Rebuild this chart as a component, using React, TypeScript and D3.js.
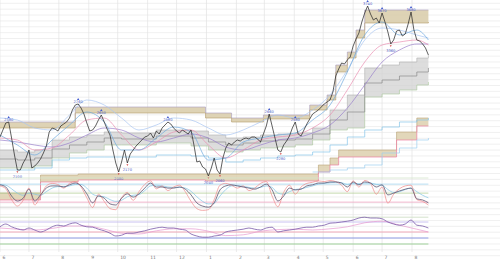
import React from "react";
import * as d3 from "d3";

const W = 500;
const H = 263;
const START = new Date(2023, 5, 1);
const AXIS_END = new Date(2024, 7, 1);
const STEP_DAYS = 3;

const monthLabels = ["6", "7", "8", "9", "10", "11", "12", "1", "2", "3", "4", "5", "6", "7", "8"];

// price sampled every 3 days
const price = [
  143, 150, 157, 158, 142, 125, 110, 110, 117, 122,
  130, 112, 114, 117, 121, 127, 134, 148, 152, 151,
  149, 154, 156, 158, 162, 170, 175, 176, 172, 166,
  157, 149, 150, 154, 160, 165, 158, 151, 145, 130,
  117, 108, 118, 130, 117, 126, 130, 134, 137, 140,
  143, 144, 147, 142, 149, 146, 152, 155, 158, 156,
  152, 149, 147, 150, 148, 146, 150, 135, 118, 119,
  113, 111, 104, 112, 122, 110, 106, 122, 132, 137,
  135, 138, 140, 139, 141, 142, 141, 143, 143, 141,
  138, 146, 154, 166, 154, 142, 130, 128, 135, 139,
  144, 152, 158, 146, 144, 150, 156, 161, 166, 168,
  170, 173, 176, 178, 180, 188, 204, 211, 217, 216,
  220, 223, 234, 241, 247, 258, 267, 274, 266, 260,
  262, 257, 267, 258, 248, 236, 240, 249, 250, 244,
  246, 256, 268, 250, 240, 239, 236, 232, 225,
];

// coarse series (every 6 steps + last)
const coarseIdx = [...d3.range(0, 145, 6), 148];
const maFast = [145, 135, 125, 140, 155, 168, 158, 130, 130, 142, 153, 148, 120, 122, 138, 142, 145, 147, 160, 175, 208, 245, 258, 245, 250, 240];
const maMid = [142, 140, 130, 132, 145, 160, 162, 145, 130, 138, 148, 150, 135, 122, 130, 140, 143, 145, 152, 165, 190, 218, 235, 238, 240, 235];
const maSlow = [140, 138, 135, 133, 137, 145, 152, 150, 142, 138, 142, 146, 142, 133, 130, 135, 140, 142, 147, 155, 172, 195, 218, 230, 236, 236];
const envUpper = [162, 160, 152, 150, 165, 180, 175, 162, 150, 155, 162, 160, 152, 145, 150, 158, 165, 162, 170, 185, 210, 240, 252, 250, 245, 242];
const envLower = [110, 110, 112, 120, 122, 123, 123, 123, 123, 125, 125, 124, 122, 118, 120, 122, 124, 125, 128, 135, 143, 150, 153, 158, 160, 162];
const cloudTop = [130, 128, 130, 140, 143, 145, 148, 147, 147, 150, 150, 149, 145, 142, 143, 145, 146, 147, 152, 170, 185, 212, 215, 218, 222, 225];
const cloudBot = [112, 112, 114, 122, 127, 130, 135, 135, 135, 137, 137, 134, 130, 128, 130, 132, 133, 135, 140, 150, 152, 183, 186, 190, 195, 198];
const cloudMid = [121, 120, 122, 131, 135, 138, 142, 141, 141, 144, 144, 142, 138, 135, 137, 139, 140, 141, 146, 160, 168, 197, 200, 204, 208, 212];

const env2Idx = [108, 114, 120, 126, 132, 138, 144, 148];
const env2 = [108, 110, 112, 115, 127, 132, 140, 142];

// resistance / support channels (step)
const resIdx = [0, 26, 71, 80, 91, 107, 113, 116, 120, 123, 126, 148];
const resTop = [158, 173, 167, 162, 165, 175, 185, 215, 228, 250, 270, 270];
const resBot = [152, 167, 162, 158, 161, 170, 180, 208, 222, 242, 257, 258];
const supIdx = [0, 14, 27, 71, 110, 114, 117, 137, 144, 148];
const supTop = [87, 105, 106, 106, 115, 122, 130, 148, 162, 162];
const supBot = [80, 98, 100, 99, 108, 115, 123, 140, 154, 154];

// oscillator (every 2 steps)
const oscD = [
  81, 75, 50, 36, 44, 69, 36, 53, 72, 78,
  78, 75, 81, 86, 78, 56, 31, 50, 44, 28,
  25, 44, 56, 47, 56, 72, 86, 75, 75, 72,
  72, 75, 69, 53, 31, 22, 19, 31, 67, 78,
  81, 78, 75, 72, 69, 75, 83, 67, 36, 50,
  72, 67, 69, 78, 81, 86, 86, 89, 89, 86,
  75, 89, 81, 89, 86, 75, 81, 53, 58, 64,
  69, 72, 42, 39, 31,
];
const oscK = [
  78, 70, 40, 22, 38, 72, 25, 50, 78, 85,
  82, 72, 85, 90, 75, 45, 18, 55, 35, 15,
  12, 45, 60, 38, 62, 82, 92, 70, 78, 65,
  75, 80, 62, 35, 15, 10, 12, 40, 80, 85,
  80, 72, 78, 65, 72, 85, 90, 50, 20, 60,
  80, 55, 75, 85, 88, 92, 90, 93, 90, 80,
  62, 92, 75, 93, 85, 55, 75, 30, 55, 70,
  78, 80, 40, 35, 25,
];
const oscSlow = [
  82, 80, 70, 58, 52, 58, 55, 52, 62, 72,
  76, 76, 78, 82, 82, 72, 55, 50, 48, 40,
  35, 38, 48, 52, 54, 65, 78, 80, 78, 75,
  74, 74, 72, 63, 48, 35, 28, 30, 50, 68,
  78, 79, 77, 74, 72, 74, 78, 74, 58, 55,
  62, 68, 70, 74, 78, 83, 85, 87, 88, 87,
  82, 85, 84, 86, 86, 82, 80, 68, 60, 62,
  68, 72, 62, 52, 45,
];
const rsiMain = [
  68, 75, 68, 63, 60, 65, 60, 55, 60, 68,
  72, 70, 75, 78, 72, 68, 67, 62, 58, 52,
  45, 47, 52, 52, 55, 58, 62, 65, 67, 65,
  65, 62, 60, 50, 45, 42, 42, 45, 47, 55,
  58, 60, 62, 65, 62, 60, 65, 67, 55, 58,
  60, 62, 65, 67, 67, 70, 72, 77, 78, 80,
  82, 85, 90, 92, 90, 90, 88, 80, 75, 72,
  75, 85, 72, 70, 65,
];
const rsiSignal = [65, 62, 60, 64, 70, 70, 62, 52, 50, 58, 63, 63, 57, 46, 48, 57, 61, 62, 60, 63, 68, 78, 82, 72, 62, 55];

const oscRefs = [100, 83, 58, 33, 19];
const oscRefColors = ["#d4e4cc", "#a6d6ef", "#b5cf98", "#f3a9c6", "#c9c9c9"];
const rsiRefs = [92, 80, 55, 40, 25];
const rsiRefColors = ["#cfe0c6", "#c4bbee", "#f2a3b3", "#8392e2", "#94cc8f"];

const peakIdx = [3, 27, 35, 58, 93, 102, 127, 132, 142];
const troughIdx = [6, 41, 44, 72, 76, 97, 135];

export default function App() {
  const x = d3.scaleTime().domain([START, AXIS_END]).range([0, 412]);
  const dateAt = (i: number) => d3.timeDay.offset(START, i * STEP_DAYS);
  const xi = (i: number) => x(dateAt(i));
  const yMain = d3.scaleLinear().domain([100, 280]).range([180, 0]);
  const yOsc = d3.scaleLinear().domain([0, 100]).range([214, 178]);
  const yRsi = d3.scaleLinear().domain([0, 100]).range([254, 214]);
  const xEnd = xi(price.length - 1);

  const gridY = d3.range(44).map((k) => 3.3 + k * 5.87);
  const months = d3.timeMonth.range(START, d3.timeDay.offset(AXIS_END, 1));

  const stepArea = (idx: number[], top: number[], bot: number[]) =>
    d3
      .area<number>()
      .x((d) => xi(d))
      .y0((_, j) => yMain(bot[j]))
      .y1((_, j) => yMain(top[j]))
      .curve(d3.curveStepAfter)(idx) || "";
  const stepLine = (idx: number[], vals: number[]) =>
    d3
      .line<number>()
      .x((_, j) => xi(idx[j]))
      .y((d) => yMain(d))
      .curve(d3.curveStepAfter)(vals) || "";
  const smoothLine = (idx: number[], vals: number[], y: d3.ScaleLinear<number, number>) =>
    d3
      .line<number>()
      .x((_, j) => xi(idx[j]))
      .y((d) => y(d))
      .curve(d3.curveMonotoneX)(vals) || "";

  const priceIdx = d3.range(price.length);
  const oscIdx = d3.range(oscD.length).map((k) => k * 2);

  const fmt = (v: number) => String(Math.round(v * 10 + 1000));

  return (
    <svg
      width={W}
      height={H}
      style={{ position: "absolute", left: 0, top: 0, background: "#fff", fontFamily: "DejaVu Sans" }}
    >
      {gridY.map((y, k) => (
        <line key={"g" + k} x1={0} x2={W} y1={y} y2={y} stroke="#e9e9e9" strokeWidth={0.7} />
      ))}
      {months.map((m, k) => (
        <line key={"v" + k} x1={x(m)} x2={x(m)} y1={0} y2={252} stroke="#e2e2e2" strokeWidth={0.7} />
      ))}

      {/* support / resistance channels */}
      <path d={stepArea(resIdx, resTop, resBot)} fill="#d8cba8" fillOpacity={0.85} />
      <path d={stepLine(resIdx, resTop)} fill="none" stroke="#a79cc0" strokeWidth={0.6} />
      <path d={stepLine(resIdx, resBot)} fill="none" stroke="#b49a6a" strokeWidth={0.6} />
      <path d={stepArea(supIdx, supTop, supBot)} fill="#ddd0ae" fillOpacity={0.85} />
      <path d={stepLine(supIdx, supTop)} fill="none" stroke="#b9a276" strokeWidth={0.6} />
      <path d={stepLine(supIdx, supBot)} fill="none" stroke="#ec7fa2" strokeWidth={0.7} />

      {/* gray cloud */}
      <path d={stepArea(coarseIdx, cloudTop, cloudBot)} fill="#d2d2d2" fillOpacity={0.75} />
      <path d={stepLine(coarseIdx, cloudTop)} fill="none" stroke="#b0b0b0" strokeWidth={0.6} />
      <path d={stepLine(coarseIdx, cloudBot)} fill="none" stroke="#a9c79a" strokeWidth={0.6} />
      <path d={stepLine(coarseIdx, cloudMid)} fill="none" stroke="#8a8a8a" strokeWidth={0.7} />

      {/* envelopes & averages */}
      <path d={stepLine(coarseIdx, envLower)} fill="none" stroke="#86c6ea" strokeWidth={0.7} />
      <path d={stepLine(env2Idx, env2)} fill="none" stroke="#9ed0f0" strokeWidth={0.7} />
      <path d={smoothLine(coarseIdx, envUpper, yMain)} fill="none" stroke="#a9c6f2" strokeWidth={0.7} />
      <path d={smoothLine(coarseIdx, maSlow, yMain)} fill="none" stroke="#9a80cc" strokeWidth={0.7} />
      <path d={smoothLine(coarseIdx, maMid, yMain)} fill="none" stroke="#ea8fb2" strokeWidth={0.7} />
      <path d={smoothLine(coarseIdx, maFast, yMain)} fill="none" stroke="#6fa9de" strokeWidth={0.7} />

      {/* price */}
      <path
        d={d3.line<number>().x((_, j) => xi(priceIdx[j])).y((d) => yMain(d))(price) || ""}
        fill="none"
        stroke="#2b2b2b"
        strokeWidth={0.75}
      />

      {/* annotations */}
      {peakIdx.map((i) => {
        const px = xi(i);
        const py = yMain(price[i]);
        return (
          <g key={"p" + i}>
            <path d={`M${px},${py - 6} l-1.2,2 h2.4 z`} fill="#3f58d0" />
            <text x={px} y={py - 1.5} fontSize={3.6} fill="#4d60c6" textAnchor="middle">
              {fmt(price[i])}
            </text>
          </g>
        );
      })}
      {troughIdx.map((i) => {
        const px = xi(i);
        const py = yMain(price[i]);
        return (
          <g key={"t" + i}>
            <path d={`M${px},${py + 3} l-1,-1.8 h2 z`} fill="#d64a4a" />
            <text x={px} y={py + 7.5} fontSize={3.6} fill="#4d60c6" textAnchor="middle">
              {fmt(price[i])}
            </text>
          </g>
        );
      })}

      {/* oscillator panel */}
      {oscRefs.map((v, k) => (
        <line key={"or" + k} x1={0} x2={xEnd} y1={yOsc(v)} y2={yOsc(v)} stroke={oscRefColors[k]} strokeWidth={0.8} />
      ))}
      <path d={smoothLine(oscIdx, oscSlow, yOsc)} fill="none" stroke="#7fc4e4" strokeWidth={0.7} />
      <path d={smoothLine(oscIdx, oscK, yOsc)} fill="none" stroke="#ef8a8a" strokeWidth={0.7} />
      <path d={smoothLine(oscIdx, oscD, yOsc)} fill="none" stroke="#5c5470" strokeWidth={0.8} />

      {/* rsi panel */}
      {rsiRefs.map((v, k) => (
        <line key={"rr" + k} x1={0} x2={xEnd} y1={yRsi(v)} y2={yRsi(v)} stroke={rsiRefColors[k]} strokeWidth={0.9} />
      ))}
      <path d={smoothLine(coarseIdx, rsiSignal, yRsi)} fill="none" stroke="#e79ad0" strokeWidth={0.7} />
      <path d={smoothLine(oscIdx, rsiMain, yRsi)} fill="none" stroke="#7a5aa8" strokeWidth={0.8} />

      {/* month labels */}
      {months.map((m, k) => (
        <text key={"m" + k} x={x(m) + 2.5} y={259} fontSize={4.5} fill="#777">
          {monthLabels[k]}
        </text>
      ))}
    </svg>
  );
}
